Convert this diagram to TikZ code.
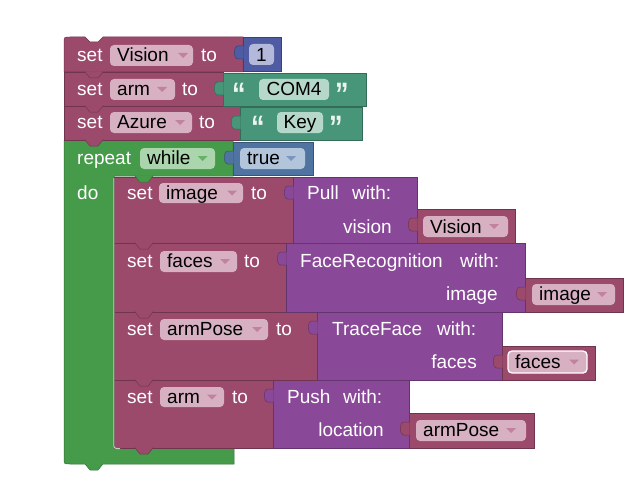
\documentclass[tikz,border=0pt]{standalone}
\usepackage{fontspec}
\setmainfont{Liberation Sans}
% block colours
\definecolor{cvar}{HTML}{9B4A6C}
\definecolor{cproc}{HTML}{8A4898}
\definecolor{cloop}{HTML}{459B49}
\definecolor{ctext}{HTML}{489679}
\definecolor{cmath}{HTML}{4F5BA2}
\definecolor{clogic}{HTML}{4F74A1}
% field colours
\definecolor{fvar}{HTML}{D7B1C2}
\definecolor{floop}{HTML}{ABD5AD}
\definecolor{ftext}{HTML}{B5D8CA}
\definecolor{fmath}{HTML}{B4B9DB}
\definecolor{flogic}{HTML}{B2C5DB}
% dropdown arrow colours
\definecolor{avar}{HTML}{C0829F}
\definecolor{aloop}{HTML}{66B26B}
\definecolor{alogic}{HTML}{7C97BD}
% block body: x1 y1 x2 y2 colour
\newcommand{\blkrect}[5]{\filldraw[fill=#5, draw=#5!72!black, line width=0.5pt] (#1,#2) rectangle (#3,#4);}
% editable field background
\newcommand{\blkfield}[5]{\fill[#5, rounded corners=4pt] (#1,#2) rectangle (#3,#4);}
% dropdown arrow: centre x, centre y, colour
\newcommand{\ddarr}[3]{\fill[#3] (#1-5,#2-2.5) -- (#1+5,#2-2.5) -- (#1,#2+2.5) -- cycle;}
% output tab on the left edge of a value block: left x, top y, colour
\newcommand{\outtab}[3]{\filldraw[fill=#3, draw=#3!72!black, line width=0.5pt] (#1+0.6,#2+9) -- (#1-5,#2+9) .. controls (#1-10,#2+9) and (#1-10,#2+22) .. (#1-5,#2+22) -- (#1+0.6,#2+22);}
% next-statement tab under a block: centre x, bottom y, colour
\newcommand{\nexttab}[3]{\filldraw[fill=#3, draw=#3!72!black, line width=0.5pt] (#1-9,#2-0.6) -- (#1-9,#2) -- (#1-4,#2+6) -- (#1+4,#2+6) -- (#1+9,#2) -- (#1+9,#2-0.6);}
\begin{document}
\begin{tikzpicture}[x=1pt,y=-1pt,
  lbl/.style={text=white, inner sep=0pt, anchor=base west, font=\fontsize{19}{22}\selectfont},
  fld/.style={text=black, inner sep=0pt, anchor=base west, font=\fontsize{19}{22}\selectfont},
  quot/.style={text=white!90!ctext, inner sep=0pt, anchor=base west, yscale=1.2, font=\bfseries\fontsize{27}{27}\selectfont}]
\fill[white] (0,0) rectangle (644,476);
\useasboundingbox (0,0) rectangle (644,476);

% ---- repeat while (C-shaped loop block)
\filldraw[fill=cloop, draw=cloop!72!black, line width=0.5pt]
  (64,140) -- (233,140) -- (233,176) -- (114,176) -- (114,442)
  .. controls (114,448) .. (120,448) -- (234,448) -- (234,464)
  -- (103,464) -- (98,470) -- (90,470) -- (85,464) -- (70,464)
  .. controls (64,464) .. (64,458) -- cycle;
\node[lbl] (rep) at (77,164.5) {repeat};
\blkfield{140}{148}{215}{169}{floop}
\node[fld] (repmode) at (147,164.5) {while};
\ddarr{202.5}{158.5}{aloop}
\node[lbl] (repdo) at (77,199) {do};
% condition: true
\blkrect{233}{142}{313}{175}{clogic}
\outtab{233}{142}{clogic}
\blkfield{240}{148}{305}{169}{flogic}
\node[fld] (cond) at (247,164.5) {true};
\ddarr{291}{158.5}{alogic}

% ---- set arm to Push with location armPose
\blkrect{114}{380}{273}{448}{cvar}
\nexttab{144}{448}{cvar}
\node[lbl] (i4set) at (127,403) {set};
\blkfield{160}{387}{224}{407}{fvar}
\node[fld] (i4var) at (167,403) {arm};
\ddarr{212}{397}{avar}
\node[lbl] (i4to) at (232,403) {to};
\blkrect{273}{380}{409}{448}{cproc}
\outtab{273}{380}{cproc}
\node[lbl] (i4fn) at (287,403) {Push};
\node[lbl] (i4with) at (343,403) {with:};
\node[lbl, anchor=base east] (i4arg) at (384,436.5) {location};
\blkrect{409}{413}{534}{448}{cvar}
\outtab{409}{413}{cvar}
\blkfield{416}{420}{526}{441}{fvar}
\node[fld] (i4val) at (423,436.5) {armPose};
\ddarr{511}{430.5}{avar}

% ---- set armPose to TraceFace with faces
\blkrect{114}{312}{317}{380}{cvar}
\nexttab{144}{380}{cvar}
\node[lbl] (i3set) at (127,335.5) {set};
\blkfield{160}{319}{268}{340}{fvar}
\node[fld] (i3var) at (167,335.5) {armPose};
\ddarr{257}{329.5}{avar}
\node[lbl] (i3to) at (276,335.5) {to};
\blkrect{317}{312}{502}{380}{cproc}
\outtab{317}{312}{cproc}
\node[lbl] (i3fn) at (332,335.5) {TraceFace};
\node[lbl] (i3with) at (437,335.5) {with:};
\node[lbl, anchor=base east] (i3arg) at (477,368) {faces};
\blkrect{502}{346}{595}{380}{cvar}
\outtab{502}{346}{cvar}
\filldraw[fill=fvar, draw=white, line width=1.3pt, rounded corners=4pt] (508,351) rectangle (587,373);
\node[fld] (i3val) at (515,368) {faces};
\ddarr{574}{362}{avar}

% ---- set faces to FaceRecognition with image
\blkrect{114}{243}{286}{312}{cvar}
\nexttab{144}{312}{cvar}
\node[lbl] (i2set) at (127,267.5) {set};
\blkfield{160}{251}{237}{272}{fvar}
\node[fld] (i2var) at (167,267.5) {faces};
\ddarr{225}{261.5}{avar}
\node[lbl] (i2to) at (244,267.5) {to};
\blkrect{286}{243}{525}{312}{cproc}
\outtab{286}{243}{cproc}
\node[lbl] (i2fn) at (300,267.5) {FaceRecognition};
\node[lbl] (i2with) at (460,267.5) {with:};
\node[lbl, anchor=base east] (i2arg) at (498,300.5) {image};
\blkrect{525}{278}{623}{312}{cvar}
\outtab{525}{278}{cvar}
\blkfield{532}{284}{615}{305}{fvar}
\node[fld] (i2val) at (539,300.5) {image};
\ddarr{602}{294.5}{avar}

% ---- set image to Pull with vision
\blkrect{114}{177}{293}{243}{cvar}
\nexttab{144}{243}{cvar}
\node[lbl] (i1set) at (127,199) {set};
\blkfield{159}{183}{243}{203}{fvar}
\node[fld] (i1var) at (166,199) {image};
\ddarr{232}{193}{avar}
\node[lbl] (i1to) at (251,199) {to};
\blkrect{293}{177}{417}{243}{cproc}
\outtab{293}{177}{cproc}
\node[lbl] (i1fn) at (307,199) {Pull};
\node[lbl] (i1with) at (352,199) {with:};
\node[lbl, anchor=base east] (i1arg) at (392,233) {vision};
\blkrect{417}{209}{515}{243}{cvar}
\outtab{417}{209}{cvar}
\blkfield{423}{216}{508}{237}{fvar}
\node[fld] (i1val) at (430,233) {Vision};
\ddarr{494}{226.5}{avar}

% statement-input tab of the loop and its inner highlight
\nexttab{144}{176}{cloop}
\draw[cloop!40!white, line width=1pt] (113.8,178) -- (113.8,442) .. controls (113.8,448.6) .. (120,448.6);

% ---- set Azure to "Key"
\blkrect{64}{106}{240}{140}{cvar}
\nexttab{94}{140}{cvar}
\node[lbl] (b3set) at (77,128.5) {set};
\blkfield{110}{112}{192}{133}{fvar}
\node[fld] (b3var) at (117,128.5) {Azure};
\ddarr{180}{122.5}{avar}
\node[lbl] (b3to) at (199,128.5) {to};
\blkrect{240}{107}{362}{140}{ctext}
\outtab{240}{107}{ctext}
\node[quot] (b3q1) at (251,138.5) {“};
\blkfield{277}{112}{323}{133}{ftext}
\node[fld, anchor=base] (b3val) at (300,128.5) {Key};
\node[quot] (b3q2) at (329,138.5) {”};

% ---- set arm to "COM4"
\blkrect{64}{72}{223}{106}{cvar}
\nexttab{94}{106}{cvar}
\node[lbl] (b2set) at (77,95.5) {set};
\blkfield{110}{79}{175}{100}{fvar}
\node[fld] (b2var) at (117,95.5) {arm};
\ddarr{162}{89.5}{avar}
\node[lbl] (b2to) at (182,95.5) {to};
\blkrect{223}{73}{366}{106}{ctext}
\outtab{223}{73}{ctext}
\node[quot] (b2q1) at (232,105.5) {“};
\blkfield{259}{79}{329}{100}{ftext}
\node[fld, anchor=base] (b2val) at (294,95.5) {COM4};
\node[quot] (b2q2) at (335,105.5) {”};

% ---- set Vision to 1
\filldraw[fill=cvar, draw=cvar!72!black, line width=0.5pt]
  (64,43) .. controls (64,37) .. (70,37) -- (85,37) -- (90,42) -- (98,42) -- (103,37)
  -- (243,37) -- (243,72) -- (64,72) -- cycle;
\nexttab{94}{72}{cvar}
\node[lbl] (b1set) at (77,61.5) {set};
\blkfield{110}{45}{193}{66}{fvar}
\node[fld] (b1var) at (117,61.5) {Vision};
\ddarr{183}{55.5}{avar}
\node[lbl] (b1to) at (201,61.5) {to};
\blkrect{243}{37}{281}{71}{cmath}
\outtab{243}{37}{cmath}
\blkfield{249}{44}{274}{65}{fmath}
\node[fld, anchor=base] (b1val) at (261.5,61.5) {1};
\end{tikzpicture}
\end{document}
